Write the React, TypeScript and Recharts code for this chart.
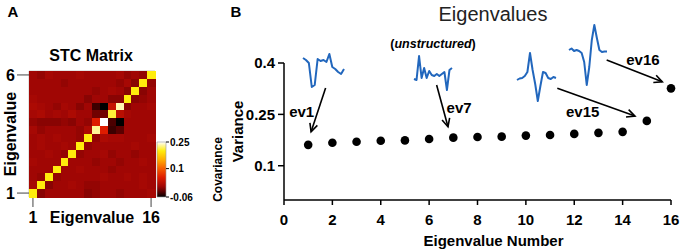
import {
  Bar,
  BarChart,
  Line,
  LineChart,
  ReferenceArea,
  ReferenceDot,
  ReferenceLine,
  Scatter,
  ScatterChart,
  XAxis,
  YAxis,
} from "recharts";

const FONT = "'Liberation Sans', Arial, Helvetica, sans-serif";
const BLUE = "#2267bd";

// ---- panel A: STC matrix (top row = eigenvalue 16) ----
const MATRIX_ROWS: number[][] = [
  [0, -0.005, 0.005, 0, 0, 0, 0.005, 0, 0, 0, 0, 0.005, -0.005, 0, -0.005, 0.2],
  [0, 0, 0, 0, -0.005, 0, 0, 0, 0, 0, 0, -0.005, 0.005, -0.01, 0.2, -0.005],
  [0, 0, 0, 0, 0, 0, 0, 0, -0.005, 0, 0.005, 0, -0.01, 0.2, -0.01, 0],
  [0.005, 0, 0, 0, 0, 0, 0, -0.01, 0, 0, -0.01, -0.01, 0.2, -0.01, -0.005, 0],
  [0.01, 0.005, 0, -0.005, 0.005, 0, -0.01, 0, -0.04, -0.06, 0.03, 0.235, -0.01, 0, 0, 0.005],
  [0.005, 0.01, 0, 0.005, 0, 0.01, 0, 0, -0.02, -0.02, 0.21, 0.02, 0.005, 0, 0, 0],
  [-0.005, -0.01, -0.01, -0.01, -0.005, -0.01, 0, -0.005, 0.05, 0.26, -0.035, -0.06, 0, 0, 0, 0],
  [0.005, -0.005, 0, 0, 0, 0, -0.005, 0.01, 0.23, 0.05, -0.04, -0.03, 0, 0, 0, 0],
  [0, 0.005, 0, 0.005, 0, 0, -0.005, 0.2, -0.005, 0.01, 0.005, 0.005, 0, 0, 0, 0.005],
  [0, 0.005, 0, 0, 0.005, 0, 0.2, -0.005, 0, 0, 0, 0, 0, 0.005, 0, 0],
  [0, 0, 0.005, 0, -0.005, 0.2, -0.005, 0, 0, 0.005, -0.005, 0, 0, -0.005, 0, 0],
  [0.005, 0, 0, 0, 0.2, 0, 0, 0, -0.005, 0, 0, -0.005, 0, 0, 0.005, 0],
  [0, 0, 0, 0.2, 0, 0, 0.005, 0, 0, 0, -0.005, 0, 0, 0, 0, 0],
  [0, -0.005, 0.2, -0.005, 0, 0, 0, 0, 0, 0.005, 0, 0, 0.005, 0, 0.005, 0],
  [0.005, 0.2, -0.01, 0, 0, 0.005, 0, -0.005, -0.005, 0, 0, 0, 0, 0, 0.005, 0],
  [0.2, -0.01, 0, 0, 0, 0, 0, -0.01, -0.005, 0, 0, -0.005, 0, 0, 0, 0.005],
];
const MATRIX_TICKS = [1, 16];
const MATRIX_Y_LABELS = ["1", "6"];
const CB_DOMAIN = [-0.06, 0.25];
const CB_TICKS = [-0.06, 0.1, 0.25];
// "hot" style colour map: value -> rgb
const HOT_STOPS: [number, number[]][] = [
  [-0.06, [0, 0, 0]],
  [-0.03, [90, 0, 0]],
  [0.0, [160, 6, 4]],
  [0.05, [222, 28, 0]],
  [0.1, [246, 92, 0]],
  [0.15, [255, 172, 0]],
  [0.2, [255, 236, 12]],
  [0.23, [255, 246, 150]],
  [0.25, [255, 255, 255]],
];

// ---- panel B: eigenvalues ----
const EV_INDEX = [1, 2, 3, 4, 5, 6, 7, 8, 9, 10, 11, 12, 13, 14, 15, 16];
const EV_VARIANCE = [
  0.161, 0.167, 0.17, 0.173, 0.174, 0.178, 0.182, 0.184, 0.185, 0.188, 0.19,
  0.193, 0.196, 0.199, 0.231, 0.326,
];
const X_TICKS = [0, 2, 4, 6, 8, 10, 12, 14, 16];
const Y_TICKS = [0.1, 0.25, 0.4];

// eigenvector waveforms (arbitrary units, up = positive)
const WAVE_EV1 = [42, 40, 37, 13, 15, 41, 39, 40, 38, 46, 33, 31, 28, 26, 31];
const WAVE_EV7 = [21, 20, 44, 22, 32, 22, 29, 25, 24, 26, 24, 26, 28, 10, 30, 32];
const WAVE_EV15 = [20, 21.5, 22, 24, 28, 47, 30, 16, -1, 14, 28, 27, 22, 21, 23, 22];
const WAVE_EV16 = [50, 51.5, 49, 50, 49, 47, 38, 15, 33, 60, 75, 62, 50, 48, 48.5, 48.5];

// annotations in data coordinates
const ARROWS = [
  { from: [1.72, 0.327], to: [1.12, 0.199] },
  { from: [6.31, 0.336], to: [6.78, 0.214] },
  { from: [11.3, 0.326], to: [14.51, 0.245] },
  { from: [13.34, 0.409], to: [15.64, 0.345] },
];
const EV_LABELS = [
  { text: "ev1", x: 0.73, y: 0.258 },
  { text: "ev7", x: 7.24, y: 0.269 },
  { text: "ev15", x: 12.35, y: 0.258 },
  { text: "ev16", x: 14.84, y: 0.411 },
];

const hotColor = (v: number) => {
  if (v <= HOT_STOPS[0][0]) return `rgb(${HOT_STOPS[0][1].join(",")})`;
  for (let i = 1; i < HOT_STOPS.length; i++) {
    const [v1, c1] = HOT_STOPS[i];
    const [v0, c0] = HOT_STOPS[i - 1];
    if (v <= v1) {
      const t = (v - v0) / (v1 - v0);
      const c = c0.map((a, k) => Math.round(a + (c1[k] - a) * t));
      return `rgb(${c.join(",")})`;
    }
  }
  return `rgb(${HOT_STOPS[HOT_STOPS.length - 1][1].join(",")})`;
};

const cells = MATRIX_ROWS.flatMap((row, ri) =>
  row.map((v, ci) => ({ x: ci + 1, y: MATRIX_ROWS.length - ri, v }))
);
const evData = EV_INDEX.map((n, i) => ({ n, v: EV_VARIANCE[i] }));
const cbData = [{ name: "cov", range: CB_DOMAIN }];

const HM_CELL = 126 / 16;

const boldTick = (size: number) => ({
  fontSize: size,
  fontWeight: 700,
  fill: "#000",
  fontFamily: FONT,
});

function Arrow(p: any) {
  const { x1, y1, x2, y2 } = p;
  const a = Math.atan2(y2 - y1, x2 - x1);
  const L = 9;
  const s = 0.45;
  const h1 = `${x2 - L * Math.cos(a - s)},${y2 - L * Math.sin(a - s)}`;
  const h2 = `${x2 - L * Math.cos(a + s)},${y2 - L * Math.sin(a + s)}`;
  return (
    <g>
      <line x1={x1} y1={y1} x2={x2} y2={y2} stroke="#000" strokeWidth={1.6} />
      <polyline
        points={`${h1} ${x2},${y2} ${h2}`}
        fill="none"
        stroke="#000"
        strokeWidth={1.6}
      />
    </g>
  );
}

function Wave({
  values,
  left,
  top,
  width,
  height,
}: {
  values: number[];
  left: number;
  top: number;
  width: number;
  height: number;
}) {
  const data = values.map((v, i) => ({ i, v }));
  return (
    <div style={{ position: "absolute", left, top }}>
      <LineChart
        width={width}
        height={height}
        data={data}
        margin={{ top: 2, right: 2, bottom: 2, left: 2 }}
      >
        <XAxis dataKey="i" hide />
        <YAxis hide domain={["dataMin", "dataMax"]} />
        <Line
          dataKey="v"
          stroke={BLUE}
          strokeWidth={2}
          dot={false}
          strokeLinejoin="round"
          isAnimationActive={false}
        />
      </LineChart>
    </div>
  );
}

function Txt({
  x,
  y,
  children,
  size,
  weight = 700,
  color = "#000",
}: {
  x: number;
  y: number;
  children: React.ReactNode;
  size: number;
  weight?: number;
  color?: string;
}) {
  return (
    <div
      style={{
        position: "absolute",
        left: x,
        top: y,
        transform: "translate(-50%, -50%)",
        whiteSpace: "nowrap",
        fontSize: size,
        fontWeight: weight,
        color,
        fontFamily: FONT,
      }}
    >
      {children}
    </div>
  );
}

export default function App() {
  return (
    <div
      style={{
        position: "absolute",
        left: 0,
        top: 0,
        width: 681,
        height: 251,
        background: "#fff",
        overflow: "hidden",
        fontFamily: FONT,
      }}
    >
      <Txt x={13} y={11} size={15}>A</Txt>
      <Txt x={236} y={11} size={15}>B</Txt>
      <Txt x={91} y={56} size={16}>STC Matrix</Txt>
      <Txt x={493} y={14} size={20} weight={400} color="#222">
        Eigenvalues
      </Txt>

      {/* heatmap */}
      <div style={{ position: "absolute", left: 0, top: 0 }}>
        <ScatterChart
          width={230}
          height={251}
          margin={{ top: 71, right: 75, bottom: 0, left: 0 }}
        >
          <XAxis
            type="number"
            dataKey="x"
            domain={[0.5, 16.5]}
            ticks={MATRIX_TICKS}
            interval={0}
            axisLine={false}
            tickSize={10}
            tickMargin={5}
            height={54}
            stroke="#444"
            tick={boldTick(16)}
            label={{
              value: "Eigenvalue",
              position: "insideTop",
              offset: 15,
              ...boldTick(16),
            }}
          />
          <YAxis
            type="number"
            dataKey="y"
            domain={[0.5, 16.5]}
            ticks={MATRIX_TICKS}
            interval={0}
            tickFormatter={(v: number) => MATRIX_Y_LABELS[MATRIX_TICKS.indexOf(v)]}
            axisLine={false}
            tickSize={12}
            tickMargin={2}
            width={29}
            stroke="#444"
            tick={boldTick(16)}
            label={{
              value: "Eigenvalue",
              angle: -90,
              position: "insideLeft",
              offset: 10,
              style: { textAnchor: "middle" },
              ...boldTick(16),
            }}
          />
          <Scatter
            data={cells}
            isAnimationActive={false}
            shape={(p: any) => (
              <rect
                x={p.cx - HM_CELL / 2}
                y={p.cy - HM_CELL / 2}
                width={HM_CELL + 1}
                height={HM_CELL + 1}
                fill={hotColor(p.payload.v)}
                shapeRendering="crispEdges"
              />
            )}
          />
          <ReferenceArea
            x1={0.5}
            x2={16.5}
            y1={0.5}
            y2={16.5}
            fill="none"
            stroke="#bbb"
            strokeWidth={0.8}
          />
        </ScatterChart>
      </div>

      {/* colour bar */}
      <div style={{ position: "absolute", left: 150, top: 130 }}>
        <BarChart
          width={80}
          height={80}
          data={cbData}
          margin={{ top: 12, right: 0, bottom: 13, left: 7 }}
          barCategoryGap={0}
        >
          <defs>
            <linearGradient id="hotbar" x1="0" y1="0" x2="0" y2="1">
              {HOT_STOPS.slice()
                .reverse()
                .map(([v, c]) => (
                  <stop
                    key={v}
                    offset={(CB_DOMAIN[1] - v) / (CB_DOMAIN[1] - CB_DOMAIN[0])}
                    stopColor={`rgb(${c.join(",")})`}
                  />
                ))}
            </linearGradient>
          </defs>
          <XAxis dataKey="name" hide height={0} />
          <YAxis
            orientation="right"
            type="number"
            domain={CB_DOMAIN}
            ticks={CB_TICKS}
            interval={0}
            axisLine={false}
            tickSize={3}
            tickMargin={1}
            width={64}
            stroke="#000"
            tick={boldTick(10)}
            label={{
              value: "Covariance",
              angle: -90,
              position: "insideRight",
              offset: 12,
              style: { textAnchor: "middle" },
              ...boldTick(12),
            }}
          />
          <Bar
            dataKey="range"
            fill="url(#hotbar)"
            stroke="#999"
            strokeWidth={0.6}
            isAnimationActive={false}
          />
        </BarChart>
      </div>

      {/* eigenvalue spectrum */}
      <div style={{ position: "absolute", left: 230, top: 0 }}>
        <ScatterChart
          width={451}
          height={251}
          margin={{ top: 63, right: 10, bottom: 0, left: 0 }}
        >
          <XAxis
            type="number"
            dataKey="n"
            domain={[0, 16]}
            ticks={X_TICKS}
            interval={0}
            tickSize={5}
            tickMargin={9}
            height={51}
            stroke="#000"
            strokeWidth={1.5}
            tick={boldTick(15)}
            label={{
              value: "Eigenvalue Number",
              position: "insideTop",
              offset: 35,
              dx: 16,
              ...boldTick(15),
            }}
          />
          <YAxis
            type="number"
            dataKey="v"
            domain={[0, 0.4]}
            ticks={Y_TICKS}
            interval={0}
            tickSize={6}
            tickMargin={3}
            width={54}
            stroke="#000"
            strokeWidth={1.5}
            tick={boldTick(15)}
            label={{
              value: "Variance",
              angle: -90,
              position: "insideLeft",
              offset: 8,
              style: { textAnchor: "middle" },
              ...boldTick(15),
            }}
          />
          <Scatter
            data={evData}
            isAnimationActive={false}
            shape={(p: any) => <circle cx={p.cx} cy={p.cy} r={4.3} fill="#000" />}
          />
          {ARROWS.map((a, i) => (
            <ReferenceLine
              key={i}
              segment={[
                { x: a.from[0], y: a.from[1] },
                { x: a.to[0], y: a.to[1] },
              ]}
              ifOverflow="visible"
              shape={Arrow}
            />
          ))}
          {EV_LABELS.map((l) => (
            <ReferenceDot
              key={l.text}
              x={l.x}
              y={l.y}
              ifOverflow="visible"
              shape={(p: any) => (
                <text
                  x={p.cx}
                  y={p.cy}
                  textAnchor="middle"
                  dominantBaseline="central"
                  fontSize={15}
                  fontWeight={700}
                  fontFamily={FONT}
                  fill="#000"
                >
                  {l.text}
                </text>
              )}
            />
          ))}
          <ReferenceDot
            x={6.16}
            y={0.455}
            ifOverflow="visible"
            shape={(p: any) => (
              <text
                x={p.cx}
                y={p.cy}
                textAnchor="middle"
                dominantBaseline="central"
                fontSize={12.5}
                fontWeight={700}
                fontFamily={FONT}
                fill="#000"
              >
                (<tspan fontStyle="italic">unstructured</tspan>)
              </text>
            )}
          />
        </ScatterChart>
      </div>

      <Wave values={WAVE_EV1} left={301} top={52} width={45} height={37} />
      <Wave values={WAVE_EV7} left={412} top={54} width={42} height={38} />
      <Wave values={WAVE_EV15} left={515} top={51} width={43} height={52} />
      <Wave values={WAVE_EV16} left={567} top={23} width={42} height={64} />
    </div>
  );
}
